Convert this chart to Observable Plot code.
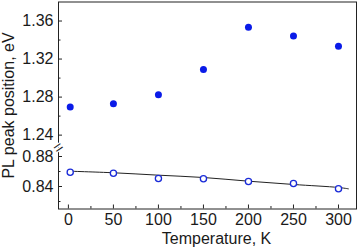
<!DOCTYPE html>
<html>
<head>
<meta charset="utf-8">
<script src="https://cdn.jsdelivr.net/npm/d3@7"></script>
<script src="https://cdn.jsdelivr.net/npm/@observablehq/plot@0.6"></script>
<style>
  html, body { margin: 0; padding: 0; background: #fff; }
  #chart svg { display: block; }
  #chart svg text { font-size: 16px !important; font-family: "Liberation Sans", Arial, sans-serif !important; }
</style>
</head>
<body>
<div id="chart"></div>
<script>
const temps = [2, 50, 100, 150, 200, 250, 300];
const peakHigh = [1.2695, 1.273, 1.2825, 1.309, 1.3534, 1.3442, 1.3334];
const peakLow = [0.8591, 0.8577, 0.8507, 0.8504, 0.8467, 0.844, 0.8369];
const fitT = [-1, 50, 100, 150, 200, 250, 300, 311];
const fitE = [0.8605, 0.8583, 0.8551, 0.852, 0.8471, 0.8427, 0.8387, 0.8369];
const xTicks = [0, 50, 100, 150, 200, 250, 300];
const xMinor = [25, 75, 125, 175, 225, 275];
const yTicks = [0.84, 0.88, 1.24, 1.28, 1.32, 1.36];
const yMinor = [0.82, 0.86, 1.26, 1.30, 1.34];
const yDomain = [0.81, 0.892, 1.227, 1.38];
const breakValue = 0.892;
const xLabel = "Temperature, K";
const yLabel = "PL peak position, eV";

const high = temps.map((t, i) => ({t, e: peakHigh[i]}));
const low = temps.map((t, i) => ({t, e: peakLow[i]}));
const fit = fitT.map((t, i) => ({t, e: fitE[i]}));

const W = 358, H = 249, mT = 1.5, mB = 40.5, mL = 58, mR = 2;
const yB = H - mB, yBreak = 147;
const font = "Liberation Sans, Arial, sans-serif";
const ink = "#1a1a1a";

const chart = Plot.plot({
  width: W, height: H,
  marginTop: mT, marginBottom: mB, marginLeft: mL, marginRight: mR,
  style: {fontFamily: font, fontSize: "16px", color: ink, background: "#fff"},
  x: {domain: [-11, 320]},
  y: {type: "linear", domain: yDomain, range: [yB, yBreak, yBreak, mT]},
  marks: [
    Plot.line(fit, {x: "t", y: "e", stroke: "#222", strokeWidth: 1, curve: "catmull-rom"}),
    Plot.dot(high, {x: "t", y: "e", r: 3.5, fill: "#0a1be8", stroke: "none"}),
    Plot.dot(low, {x: "t", y: "e", r: 3.1, fill: "#fff", stroke: "#1a2bd8", strokeWidth: 1.3}),
    Plot.frame({stroke: "#222", strokeWidth: 1}),
    Plot.axisX(xTicks, {anchor: "bottom", tickSize: 0, tickPadding: 4.5, fontSize: 16, fill: ink, label: null}),
    Plot.axisX(xTicks, {anchor: "bottom", tickSize: -4, text: null, label: null, stroke: "#222"}),
    Plot.axisX(xMinor, {anchor: "bottom", tickSize: -2.5, text: null, label: null, stroke: "#222"}),
    Plot.axisY(yTicks, {anchor: "left", tickSize: 0, tickPadding: 5, tickFormat: d3.format(".2f"), fontSize: 16, fill: ink, label: null}),
    Plot.axisY(yTicks, {anchor: "left", tickSize: -4, text: null, label: null, stroke: "#222"}),
    Plot.axisY(yMinor, {anchor: "left", tickSize: -2.5, text: null, label: null, stroke: "#222"}),
    Plot.text(["="], {frameAnchor: "left", y: [breakValue], text: d => d, textAnchor: "middle", lineAnchor: "middle", rotate: -35, fontSize: 16, fill: "#222", stroke: "#fff", strokeWidth: 2.5, paintOrder: "stroke"}),
    Plot.text([xLabel], {frameAnchor: "bottom", textAnchor: "middle", lineAnchor: "middle", dx: 9, dy: 30, fontSize: 16, fill: ink}),
    Plot.text([yLabel], {frameAnchor: "left", textAnchor: "middle", lineAnchor: "middle", rotate: -90, dx: -50, fontSize: 16, fill: ink})
  ]
});
document.getElementById("chart").appendChild(chart);
</script>
</body>
</html>
